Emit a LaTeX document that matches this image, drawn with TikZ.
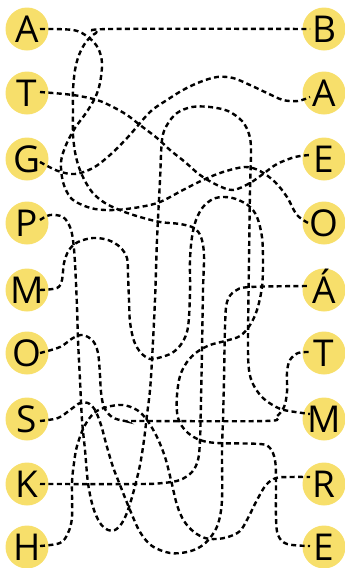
\documentclass[tikz,border=0pt]{standalone}
\usepackage{fontspec}
\setmainfont{Open Sans}
\definecolor{ballyellow}{RGB}{247,223,107}
\begin{document}
\begin{tikzpicture}[x=1pt,y=-1pt,
  ball/.style={circle,fill=ballyellow,minimum size=43pt,inner sep=0pt},
  letter/.style={anchor=base,inner sep=0pt,font=\fontsize{37}{37}\selectfont},
  wire/.style={line width=2.4pt,dash pattern=on 5pt off 3.4pt}]
\useasboundingbox (0,0) rectangle (345,568);
% circles
\foreach \n/\y in {1/29,2/93,3/159,4/223,5/290,6/353,7/419,8/484,9/547}{
  \node[ball] (L\n) at (27,\y) {};
  \node[ball] (R\n) at (324,\y) {};
}
% endpoints
\foreach \n/\y in {1/29,2/92,3/162,4/220,5/290,6/353,7/421,8/484,9/546}{
  \coordinate (s\n) at (40,\y);
}
\foreach \n/\y in {1/29,2/97,3/155,4/224,5/286,6/352,7/414,8/477,9/546}{
  \coordinate (e\n) at (310,\y);
}
% A -> O
\draw[wire] plot[smooth,tension=0.55] coordinates {(s1) (73,30) (88,37) (98,48) (102,63) (100,83) (95,98) (86,113) (75,128) (66,145) (61,162) (63,182) (70,197) (80,204) (95,209) (115,210) (140,207) (160,202) (183,190) (203,180) (223,172) (245,167) (260,171) (275,182) (287,197) (297,215) (e4)};
% T -> E
\draw[wire] plot[smooth,tension=0.55] coordinates {(s2) (73,95) (97,100) (113,107) (127,115) (140,125) (157,138) (170,150) (185,162) (200,175) (217,185) (233,190) (250,183) (263,174) (277,164) (295,157) (e3)};
% G -> A
\draw[wire] plot[smooth,tension=0.55] coordinates {(s3) (58,171) (75,174) (93,168) (110,155) (128,137) (150,112) (167,100) (183,90) (200,82) (217,77) (233,78) (250,85) (267,93) (283,100) (298,101) (e2)};
% P -> M
\draw[wire] plot[smooth,tension=0.55] coordinates {(s4) (50,215) (63,217) (70,227) (73,240) (75,263) (77,307) (78,340) (80,380) (82,420) (85,450) (88,483) (93,507) (100,523) (108,530) (115,530) (122,523) (128,510) (134,490) (140,465) (144,440) (147,415) (150,390) (152,360) (155,300) (157,240) (160,180) (162,140) (167,125) (177,113) (192,107) (210,107) (228,111) (242,121) (249,134) (251,150) (250,190) (249,260) (248,343) (249,370) (253,384) (261,396) (271,404) (284,410) (e7)};
% M -> E
\draw[wire] plot[smooth,tension=0.55] coordinates {(s5) (57,288) (62,280) (64,263) (69,250) (78,242) (93,238) (108,240) (120,247) (127,258) (128,275) (129,300) (130,322) (134,341) (141,353) (150,359) (158,358) (172,353) (182,343) (188,327) (190,293) (190,260) (192,237) (196,220) (203,207) (213,199) (224,197) (236,199) (249,206) (257,217) (262,237) (263,262) (262,287) (257,310) (250,325) (240,336) (225,341) (210,345) (197,352) (187,362) (180,376) (177,395) (177,412) (180,423) (188,433) (200,440) (217,443) (260,444) (270,448) (275,460) (276,480) (276,517) (278,535) (287,544) (e9)};
% O -> T
\draw[wire] plot[smooth,tension=0.55] coordinates {(s6) (60,347) (73,338) (83,335) (93,341) (98,353) (100,375) (101,392) (104,407) (112,417) (125,421) (140,421) (265,421) (276,417) (284,407) (287,392) (287,372) (290,360) (298,353) (e6)};
% S -> Á
\draw[wire] plot[smooth,tension=0.55] coordinates {(s7) (58,418) (70,410) (80,403) (88,403) (95,410) (101,425) (107,447) (113,467) (120,485) (130,510) (140,532) (152,546) (170,553) (187,552) (200,547) (210,538) (218,524) (222,500) (222,450) (223,420) (224,380) (225,327) (227,302) (235,291) (250,287) (e5)};
% K -> B
\draw[wire] plot[smooth,tension=0.55] coordinates {(s8) (140,484) (163,483) (180,480) (192,472) (198,460) (200,440) (201,400) (202,350) (203,290) (204,255) (201,237) (194,228) (180,224) (160,222) (140,217) (122,211) (105,203) (92,192) (82,175) (76,157) (73,135) (73,110) (73,90) (75,70) (79,55) (86,42) (96,33) (110,29) (e1)};
% H -> R
\draw[wire] plot[smooth,tension=0.55] coordinates {(s9) (60,543) (68,533) (72,517) (72,483) (74,463) (77,446) (84,427) (94,413) (107,407) (123,405) (137,410) (147,420) (157,437) (165,457) (171,480) (177,505) (184,521) (194,532) (205,538) (216,539) (228,537) (240,531) (248,518) (257,500) (266,485) (276,478) (290,477) (e8)};
% letters
\foreach \n/\t in {1/A,2/T,3/G,4/P,5/M,6/O,7/S,8/K,9/H}{
  \node[letter] at ([yshift=-13.5pt]L\n.center) {\t};
}
\foreach \n/\t in {1/B,2/A,3/E,4/O,5/Á,6/T,7/M,8/R,9/E}{
  \node[letter] at ([yshift=-13.5pt]R\n.center) {\t};
}
\end{tikzpicture}
\end{document}
